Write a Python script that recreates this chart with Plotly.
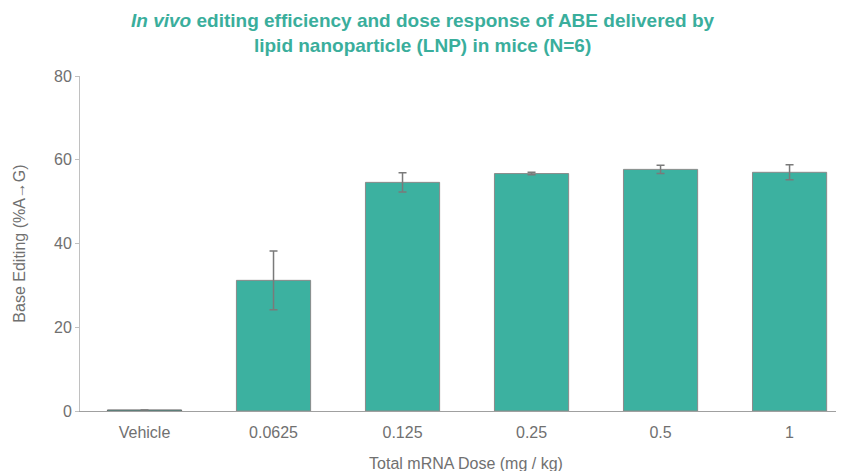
import plotly.graph_objects as go

categories = ["Vehicle", "0.0625", "0.125", "0.25", "0.5", "1"]
editing = [0.25, 31.2, 54.6, 56.7, 57.7, 57.0]
errors = [0.0, 7.0, 2.3, 0.3, 1.0, 1.8]
y_ticks = [0, 20, 40, 60, 80]

teal = "#3cb1a0"
grey_text = "#707070"
font_family = "Liberation Sans, Arial, sans-serif"

outline_colors = ["#6a6a6a"] + ["#8a8a8a"] * (len(categories) - 1)

fig = go.Figure()
fig.add_trace(go.Bar(
    x=categories,
    y=editing,
    width=0.575,
    marker=dict(color=teal, line=dict(color=outline_colors, width=1)),
    error_y=dict(type="data", array=errors, visible=True, color="#7a7a7a",
                 thickness=1.5, width=4),
))

fig.update_layout(
    width=844, height=471,
    paper_bgcolor="white", plot_bgcolor="white",
    margin=dict(l=72, r=0, t=68, b=68),
    font=dict(family=font_family, size=16, color=grey_text),
    showlegend=False,
)

fig.add_annotation(
    text="<b><i>In vivo</i> editing efficiency and dose response of ABE delivered by<br>lipid nanoparticle (LNP) in mice (N=6)</b>",
    xref="paper", yref="paper", x=0.444, y=1.127,
    xanchor="center", yanchor="middle", showarrow=False,
    font=dict(size=19, color="#3aae9c", family=font_family),
)

fig.update_xaxes(
    type="category",
    range=[-0.5, 5.484],
    showline=True, linecolor="#a0a0a0", linewidth=1,
    ticks="", showgrid=False,
    ticklabelstandoff=7,
    tickfont=dict(size=16, color=grey_text),
    title=dict(text="Total mRNA Dose (mg / kg)", font=dict(size=16, color=grey_text), standoff=17),
)
fig.update_yaxes(
    range=[0, 80],
    tickvals=y_ticks,
    showline=True, linecolor="#c0c0c0", linewidth=1,
    ticks="outside", ticklen=4, tickcolor="#c0c0c0",
    showgrid=False, zeroline=False,
    tickfont=dict(size=16, color=grey_text),
    title=dict(text="Base Editing (%A→G)", font=dict(size=16, color=grey_text), standoff=24),
)

fig.write_html("out.html")
